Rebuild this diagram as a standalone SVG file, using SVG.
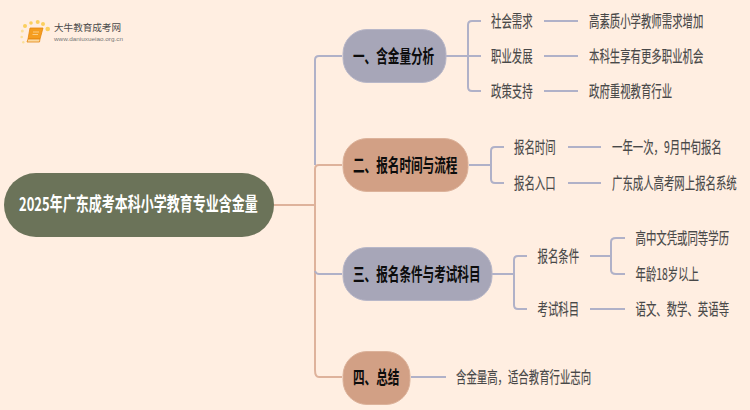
<svg xmlns="http://www.w3.org/2000/svg" width="750" height="410" viewBox="0 0 750 410">
<defs><linearGradient id="fade"><stop offset="0" stop-color="#bdb5ae"/><stop offset="1" stop-color="#ffeee1"/></linearGradient></defs>
<style>
text{font-family:"Noto Sans CJK SC","Liberation Sans",sans-serif;dominant-baseline:central}
.t{font-size:16px;fill:#484848;stroke:#484848;stroke-width:.15}
.h{font-size:18px;font-weight:700;fill:#0c0c0c}
.a{fill:none;stroke:#b0b1c8;stroke-width:2}
.b{fill:none;stroke:#deb29b;stroke-width:2}
.p{fill:#a7a6b8;stroke:#b8b7c8}
.q{fill:#d2a085;stroke:#dcb29a}
</style>
<rect width="750" height="410" fill="#ffeee1"/>
<g id="logo">
<circle cx="25" cy="26" r="2" fill="#fbcf5e"/><circle cx="31" cy="23" r="1.800" fill="#fbcf5e"/><circle cx="37.700" cy="22" r="2" fill="#fbcf5e"/><circle cx="43" cy="24" r="2" fill="#fbcf5e"/><circle cx="47.700" cy="29" r="2.300" fill="#fbcf5e"/><circle cx="22.300" cy="31" r="1.500" fill="#fbe09a"/><circle cx="21.700" cy="37" r="1.300" fill="#fbe09a"/><circle cx="23.300" cy="42.300" r="1.200" fill="#fbe09a"/>
<path d="M30 28H43L40 39H28Z" fill="#f59d1f" stroke="#e5860f" stroke-width="0.800"/>
<path d="M28 39H40L39.500 42H27Z" fill="#fbd9a0" stroke="#e5860f" stroke-width="0.800"/>
<path d="M33 32H39M32.500 34.500H38" stroke="#fbd9a0" stroke-width="0.800"/>
<text x="54" y="27" font-size="9.600" fill="#4a4a4a" textLength="67" lengthAdjust="spacingAndGlyphs">大牛教育成考网</text>
<path d="M54 33.500H132" stroke="url(#fade)" stroke-width="0.800" fill="none"/>
<text x="54" y="39" font-size="5.500" fill="#777" style="font-family:'Liberation Sans',sans-serif" textLength="69" lengthAdjust="spacingAndGlyphs">www.daniuxueiao.org.cn</text>
</g>
<g id="connectors">
<path class="b" d="M274 205H315"/>
<path class="a" d="M342 56H319Q315 56 315 60V165"/>
<path class="b" d="M342 165H319Q315 165 315 169V370Q315 377 319 377H342"/>
<path class="a" d="M342 274H319Q316 274 315 271"/>
<path class="a" d="M446 56H481"/>
<path class="a" d="M481 21H472Q468 21 468 25V87Q468 91 472 91H481"/>
<path class="a" d="M544 21H578M544 56H578M544 91H578"/>
<path class="a" d="M469 165H491"/>
<path class="a" d="M504 147H495Q491 147 491 151V179Q491 183 495 183H504"/>
<path class="a" d="M568 147H601M568 183H601"/>
<path class="a" d="M492 274H514"/>
<path class="a" d="M527 256H518Q514 256 514 260V305Q514 309 518 309H527"/>
<path class="a" d="M590 256H611"/>
<path class="a" d="M625 238H616Q611 238 611 242V270Q611 274 616 274H625"/>
<path class="a" d="M590 309H625"/>
<path class="a" d="M411 377H446"/>
</g>
<g id="root"><rect x="4" y="173" width="270" height="64" rx="32" fill="#6b7359"/><text transform="translate(19 203) scale(.685 1)" font-size="19" font-weight="700" fill="#fff">2025年广东成考本科小学教育专业含金量</text></g>
<g id="n1"><rect class="p" x="343" y="29.500" width="103" height="53" rx="24"/><text class="h" transform="translate(353 55) scale(.645 1)">一、含金量分析</text></g>
<g id="n2"><rect class="q" x="343" y="138.500" width="125" height="53" rx="24"/><text class="h" transform="translate(353 164) scale(.645 1)">二、报名时间与流程</text></g>
<g id="n3"><rect class="p" x="343" y="247.500" width="149" height="53" rx="24"/><text class="h" transform="translate(353 273) scale(.645 1)">三、报名条件与考试科目</text></g>
<g id="n4"><rect class="q" x="343" y="351.500" width="67" height="53" rx="24"/><text class="h" transform="translate(353 376) scale(.645 1)">四、总结</text></g>
<g id="l1"><text class="t" transform="translate(491 20) scale(.65 1)">社会需求</text></g>
<g id="l2"><text class="t" transform="translate(491 55) scale(.65 1)">职业发展</text></g>
<g id="l3"><text class="t" transform="translate(491 90) scale(.65 1)">政策支持</text></g>
<g id="l4"><text class="t" transform="translate(589 20) scale(.65 1)">高素质小学教师需求增加</text></g>
<g id="l5"><text class="t" transform="translate(589 55) scale(.65 1)">本科生享有更多职业机会</text></g>
<g id="l6"><text class="t" transform="translate(589 90) scale(.65 1)">政府重视教育行业</text></g>
<g id="l7"><text class="t" transform="translate(514 146) scale(.65 1)">报名时间</text></g>
<g id="l8"><text class="t" transform="translate(514 182) scale(.65 1)">报名入口</text></g>
<g id="l9"><text class="t" transform="translate(612 146) scale(.65 1)">一年一次，9月中旬报名</text></g>
<g id="l10"><text class="t" transform="translate(612 182) scale(.65 1)">广东成人高考网上报名系统</text></g>
<g id="l11"><text class="t" transform="translate(537.500 255) scale(.65 1)">报名条件</text></g>
<g id="l12"><text class="t" transform="translate(537.500 308) scale(.65 1)">考试科目</text></g>
<g id="l13"><text class="t" transform="translate(635.500 237) scale(.65 1)">高中文凭或同等学历</text></g>
<g id="l14"><text class="t" transform="translate(635.500 273) scale(.65 1)">年龄18岁以上</text></g>
<g id="l15"><text class="t" transform="translate(635.500 308) scale(.65 1)">语文、数学、英语等</text></g>
<g id="l16"><text class="t" transform="translate(456 376) scale(.65 1)">含金量高，适合教育行业志向</text></g>
</svg>
